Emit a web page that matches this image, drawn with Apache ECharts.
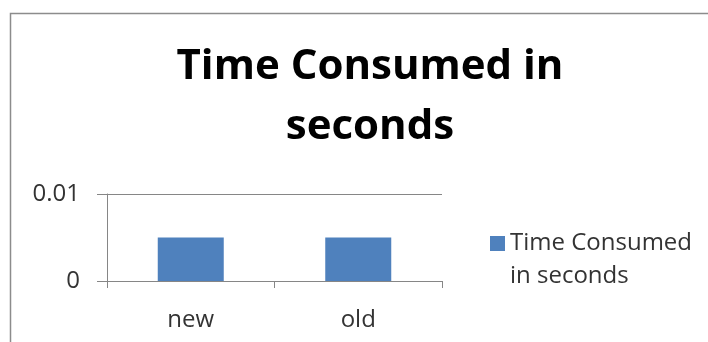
<!DOCTYPE html>
<html><head><meta charset="utf-8">
<script src="https://cdn.jsdelivr.net/npm/echarts@6/dist/echarts.min.js"></script>
<style>html,body{margin:0;padding:0;background:#fff}#c{width:708px;height:342px}</style>
</head><body><div id="c"></div>
<script>
var categories = ['new', 'old'];
var seriesName = 'Time Consumed\nin seconds';
var values = [0.005, 0.005];
var yTicks = [0, 0.01];

var chart = echarts.init(document.getElementById('c'), null, {renderer: 'canvas'});
chart.setOption({
  animation: false,
  backgroundColor: '#fff',
  graphic: [{type: 'rect', shape: {x: 10.5, y: 13.5, width: 720, height: 360}, style: {fill: 'none', stroke: '#8c8c8c', lineWidth: 1.5}, silent: true}],
  title: {
    text: 'Time Consumed in\nseconds',
    left: 365, textAlign: 'center', top: 32,
    textStyle: {fontFamily: 'Open Sans', fontWeight: 'bold', fontSize: 42, lineHeight: 60, color: '#000'}
  },
  legend: {
    left: 485, top: 222, orient: 'vertical', itemGap: 0,
    icon: 'path://M0,0h0.01v0.01h-0.01z M0,9h15v15h-15z M0,66h0.01v0.01h-0.01z M14.99,66h0.01v0.01h-0.01z',
    itemWidth: 15, itemHeight: 66,
    textStyle: {fontFamily: 'Open Sans', fontSize: 24, lineHeight: 33, color: '#333'},
    data: [seriesName]
  },
  grid: {left: 107, right: 266, top: 194, bottom: 61},
  xAxis: {
    type: 'category', data: categories, boundaryGap: true,
    axisLine: {lineStyle: {color: '#868686', width: 1}},
    axisTick: {show: true, length: 7, lineStyle: {color: '#868686'}},
    axisLabel: {margin: 27, fontFamily: 'Open Sans', fontSize: 24, color: '#333'}
  },
  yAxis: {
    type: 'value', min: yTicks[0], max: yTicks[yTicks.length - 1], interval: yTicks[1] - yTicks[0],
    axisLine: {show: true, lineStyle: {color: '#868686', width: 1}},
    axisTick: {show: true, length: 10, lineStyle: {color: '#868686'}},
    splitLine: {show: true, lineStyle: {color: '#868686', width: 1}},
    axisLabel: {margin: 27, fontFamily: 'Open Sans', fontSize: 24, color: '#333', formatter: function (v) { return String(v); }}
  },
  series: [{
    name: seriesName, type: 'bar', data: values, barWidth: 66,
    itemStyle: {color: '#4F81BD'}
  }]
});
</script></body></html>
